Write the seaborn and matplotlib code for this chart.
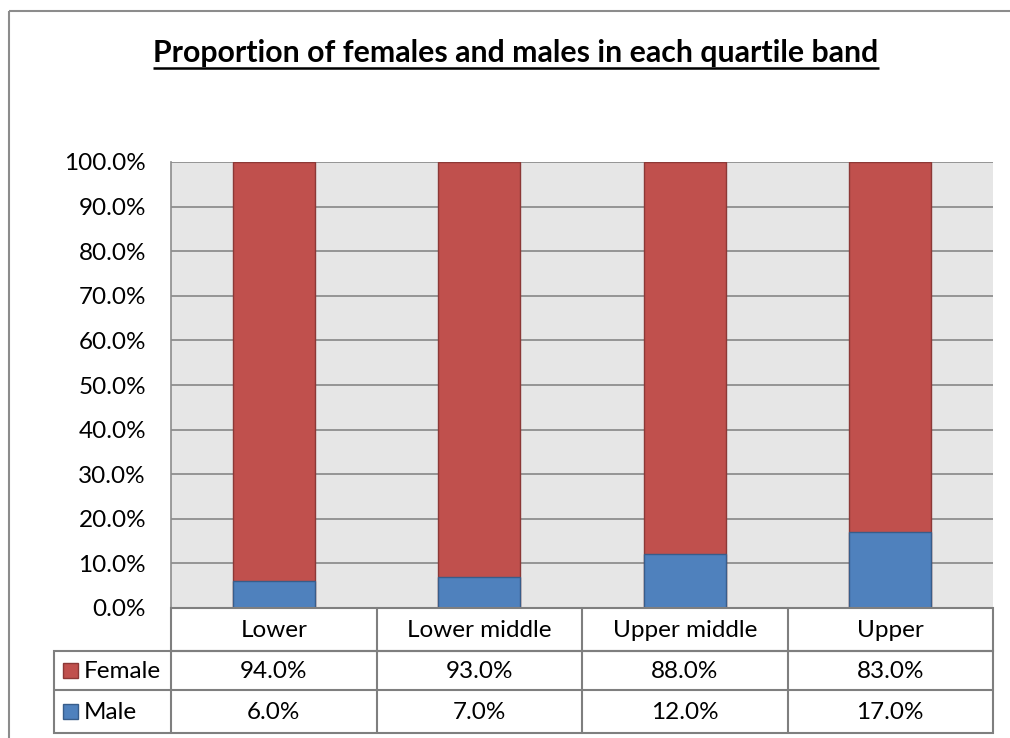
import matplotlib
matplotlib.use("Agg")
import matplotlib.pyplot as plt
import seaborn as sns
import pandas as pd
from matplotlib.patches import Rectangle

# ---- data ----
categories = ["Lower", "Lower middle", "Upper middle", "Upper"]
female = [94.0, 93.0, 88.0, 83.0]
male = [6.0, 7.0, 12.0, 17.0]
series_names = ["Female", "Male"]
yticks = [0, 10, 20, 30, 40, 50, 60, 70, 80, 90, 100]
title = "Proportion of females and males in each quartile band"

RED = "#C0504D"
RED_EDGE = "#8C3836"
BLUE = "#4F81BD"
BLUE_EDGE = "#385D8A"
GRID = "#868686"
BORDER = "#8C8C8C"
FS = 17.5

sns.set_theme(style="white")
plt.rcParams['font.family'] = ['Lato', 'DejaVu Sans']

W, H = 1010, 738
fig = plt.figure(figsize=(W / 100, H / 100), dpi=100)
fig.patch.set_facecolor("white")

def fx(px):
    return px / W

def fy(py):
    return 1 - py / H

L, R, T, B = 171, 993, 162, 608
ax = fig.add_axes([fx(L), fy(B), fx(R) - fx(L), fy(T) - fy(B)])

df = pd.DataFrame({"band": categories, "Female": female, "Male": male})
df["Total"] = df["Female"] + df["Male"]

sns.barplot(data=df, x="band", y="Total", color=RED, saturation=1, width=0.4,
            edgecolor=RED_EDGE, linewidth=1.0, ax=ax, zorder=3)
sns.barplot(data=df, x="band", y="Male", color=BLUE, saturation=1, width=0.4,
            edgecolor=BLUE_EDGE, linewidth=1.0, ax=ax, zorder=4)

ax.set_facecolor("#E6E6E6")
ax.set_ylim(0, 100)
ax.set_xlim(-0.5, len(categories) - 0.5)
ax.set_yticks(yticks)
ax.set_yticklabels([f"{v:.1f}%" for v in yticks], fontsize=FS, color="black")
ax.tick_params(axis="y", length=0, pad=18)
ax.set_xticks([])
ax.set_xlabel("")
ax.set_ylabel("")
ax.yaxis.grid(True, color=GRID, linewidth=1.2, zorder=0)
ax.set_axisbelow(True)
for s in ["top", "right", "bottom"]:
    ax.spines[s].set_visible(False)
ax.spines["left"].set_color(BORDER)
ax.spines["left"].set_linewidth(1.2)

# ---- overlay for table, frame and title ----
ov = fig.add_axes([0, 0, 1, 1], zorder=5)
ov.set_xlim(0, W)
ov.set_ylim(H, 0)
ov.axis("off")
ov.patch.set_alpha(0)

# outer frame
ov.plot([9, W + 10], [11, 11], color=BORDER, lw=1.5, solid_capstyle="butt", clip_on=False)
ov.plot([9, 9], [11, H + 10], color=BORDER, lw=1.5, solid_capstyle="butt", clip_on=False)

# data table
colw = (R - L) / len(categories)
hdr_top, hdr_bot = 608, 651
row_bounds = [(651, 690), (690, 733)]
lab_left = 54
tc = "#7F7F7F"
tw = 1.5
# header row
ov.add_patch(Rectangle((L, hdr_top), R - L, hdr_bot - hdr_top, fill=False, ec=tc, lw=tw))
for i in range(1, len(categories)):
    ov.plot([L + i * colw] * 2, [hdr_top, row_bounds[-1][1]], color=tc, lw=tw)
for i, c in enumerate(categories):
    ov.text(L + (i + 0.5) * colw, (hdr_top + hdr_bot) / 2 + 1, c, ha="center",
            va="center", fontsize=FS, color="black")
# series rows
ov.add_patch(Rectangle((lab_left, row_bounds[0][0]), R - lab_left,
                       row_bounds[-1][1] - row_bounds[0][0], fill=False, ec=tc, lw=tw))
ov.plot([lab_left, R], [row_bounds[0][1]] * 2, color=tc, lw=tw)
ov.plot([L, L], [row_bounds[0][0], row_bounds[-1][1]], color=tc, lw=tw)
series_vals = [female, male]
colors = [(RED, RED_EDGE), (BLUE, BLUE_EDGE)]
for (top, bot), name, vals, (fc, ec) in zip(row_bounds, series_names, series_vals, colors):
    cy = (top + bot) / 2
    ov.add_patch(Rectangle((63, cy - 7.5), 15, 15, fc=fc, ec=ec, lw=1))
    ov.text(84, cy + 1, name, ha="left", va="center", fontsize=FS, color="black")
    for i, v in enumerate(vals):
        ov.text(L + (i + 0.5) * colw, cy + 1, f"{v:.1f}%", ha="center", va="center",
                fontsize=FS, color="black")

# title with underline
t = ov.text(516, 62, title, ha="center", va="baseline", fontsize=21.8,
            fontweight="bold", color="black")
fig.canvas.draw()
bb = t.get_window_extent()
ov.plot([bb.x0, bb.x1], [67.5, 67.5], color="black", lw=1.8, solid_capstyle="butt")

fig.savefig("out.png", dpi=100, facecolor="white")
